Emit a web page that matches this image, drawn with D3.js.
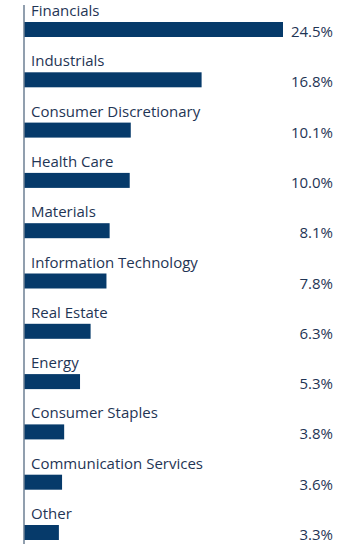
<!DOCTYPE html>
<html>
<head>
<meta charset="utf-8">
<script src="https://cdn.jsdelivr.net/npm/d3@7"></script>
<style>
  body { margin: 0; background: #fff; }
  text { font-family: "Open Sans", sans-serif; fill: #1f3555; }
</style>
</head>
<body>
<div id="chart"></div>
<script>
// sector weights, top to bottom
const sectors = ["Financials", "Industrials", "Consumer Discretionary", "Health Care", "Materials",
  "Information Technology", "Real Estate", "Energy", "Consumer Staples", "Communication Services", "Other"];
const weights = [24.5, 16.8, 10.1, 10.0, 8.1, 7.8, 6.3, 5.3, 3.8, 3.6, 3.3];

const W = 360, H = 547;
const x0 = 24;
const rowStep = 50.3;

const svg = d3.select("#chart").append("svg")
  .attr("width", W)
  .attr("height", H);

const x = d3.scaleLinear().domain([0, 24.5]).range([x0, 283]);
const y = d3.scaleBand().domain(sectors).range([5, 5 + rowStep * sectors.length]).padding(0);

const rows = svg.selectAll(".row")
  .data(sectors.map((s, i) => ({ name: s, value: weights[i] })))
  .enter().append("g")
  .attr("class", "row")
  .attr("transform", d => `translate(0, ${y(d.name)})`);

// bars
rows.append("rect")
  .attr("x", x(0))
  .attr("y", 17)
  .attr("width", d => x(d.value) - x(0))
  .attr("height", 15)
  .attr("fill", "#063a6a");

// category labels above bars
rows.append("text")
  .attr("x", 31)
  .attr("y", 11)
  .style("font-size", "15px")
  .text(d => d.name);

// value labels at right
rows.append("text")
  .attr("x", 333)
  .attr("y", 32)
  .attr("text-anchor", "end")
  .style("font-size", "15px")
  .text(d => d3.format(".1f")(d.value) + "%");

// axis line
svg.append("line")
  .attr("x1", x0).attr("x2", x0)
  .attr("y1", 5).attr("y2", 544)
  .attr("stroke", "#6d7f93")
  .attr("stroke-width", 1.5);
</script>
</body>
</html>
